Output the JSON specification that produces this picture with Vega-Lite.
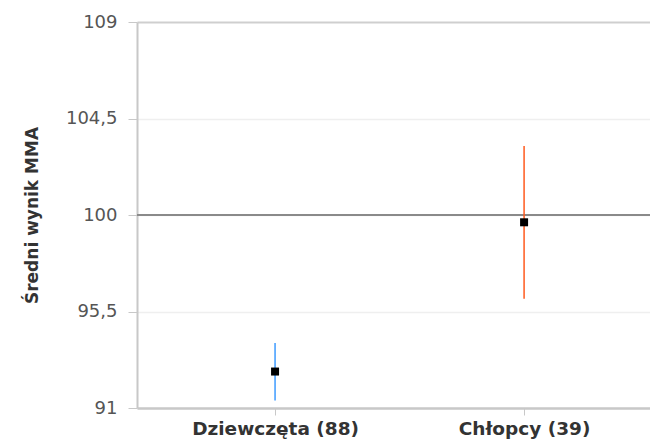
{
  "$schema": "https://vega.github.io/schema/vega-lite/v6.json",
  "width": 513,
  "height": 386,
  "autosize": "none",
  "padding": {"left": 137, "top": 22, "right": 0, "bottom": 33},
  "background": "white",
  "config": {"view": {"stroke": null}, "font": "DejaVu Sans"},
  "data": {"values": [
    {"group": "Dziewczęta (88)", "mean": 92.7, "lo": 91.35, "hi": 94.03},
    {"group": "Chłopcy (39)", "mean": 99.66, "lo": 96.1, "hi": 103.22}
  ]},
  "layer": [
    {
      "data": {"values": [{"ref": 100}]},
      "mark": {"type": "rule", "color": "#8a8a8a", "strokeWidth": 2},
      "encoding": {
        "y": {
          "field": "ref", "type": "quantitative",
          "scale": {"domain": [91, 109], "nice": false, "zero": false},
          "axis": {
            "title": "Średni wynik MMA",
            "values": [91, 95.5, 100, 104.5, 109],
            "labelExpr": "replace(toString(datum.value), '.', ',')",
            "grid": true,
            "gridColor": {"condition": {"test": "datum.value == 109", "value": "#cfcfcf"}, "value": "#efefef"},
            "gridWidth": {"condition": {"test": "datum.value == 109", "value": 2}, "value": 1.5},
            "domainColor": "#c8c8c8",
            "domainWidth": 2,
            "tickColor": "#c8c8c8",
            "tickSize": 9,
            "labelPadding": 11,
            "labelFontSize": 18,
            "labelColor": "#555555",
            "titleFontSize": 17,
            "titleFontWeight": "bold",
            "titleColor": "#333333",
            "titlePadding": 24
          }
        }
      }
    },
    {
      "mark": {"type": "rule", "strokeWidth": 1.5},
      "encoding": {
        "x": {
          "field": "group", "type": "nominal", "sort": null,
          "scale": {"type": "point", "padding": 0.53, "align": 0.523},
          "axis": {
            "title": null,
            "labelAngle": 0,
            "labelFontSize": 18.5,
            "labelFontWeight": "bold",
            "labelColor": "#333333",
            "domainColor": "#c8c8c8",
            "domainWidth": 2.5,
            "tickColor": "#c8c8c8",
            "tickSize": 7,
            "labelPadding": 4,
            "grid": false
          }
        },
        "y": {"field": "lo", "type": "quantitative"},
        "y2": {"field": "hi"},
        "color": {
          "field": "group", "type": "nominal",
          "scale": {"domain": ["Dziewczęta (88)", "Chłopcy (39)"], "range": ["#3d9bff", "#ff5a1e"]},
          "legend": null
        }
      }
    },
    {
      "mark": {"type": "point", "shape": "square", "filled": true, "opacity": 1, "color": "black", "size": 64},
      "encoding": {
        "x": {"field": "group", "type": "nominal", "sort": null},
        "y": {"field": "mean", "type": "quantitative"}
      }
    }
  ]
}
